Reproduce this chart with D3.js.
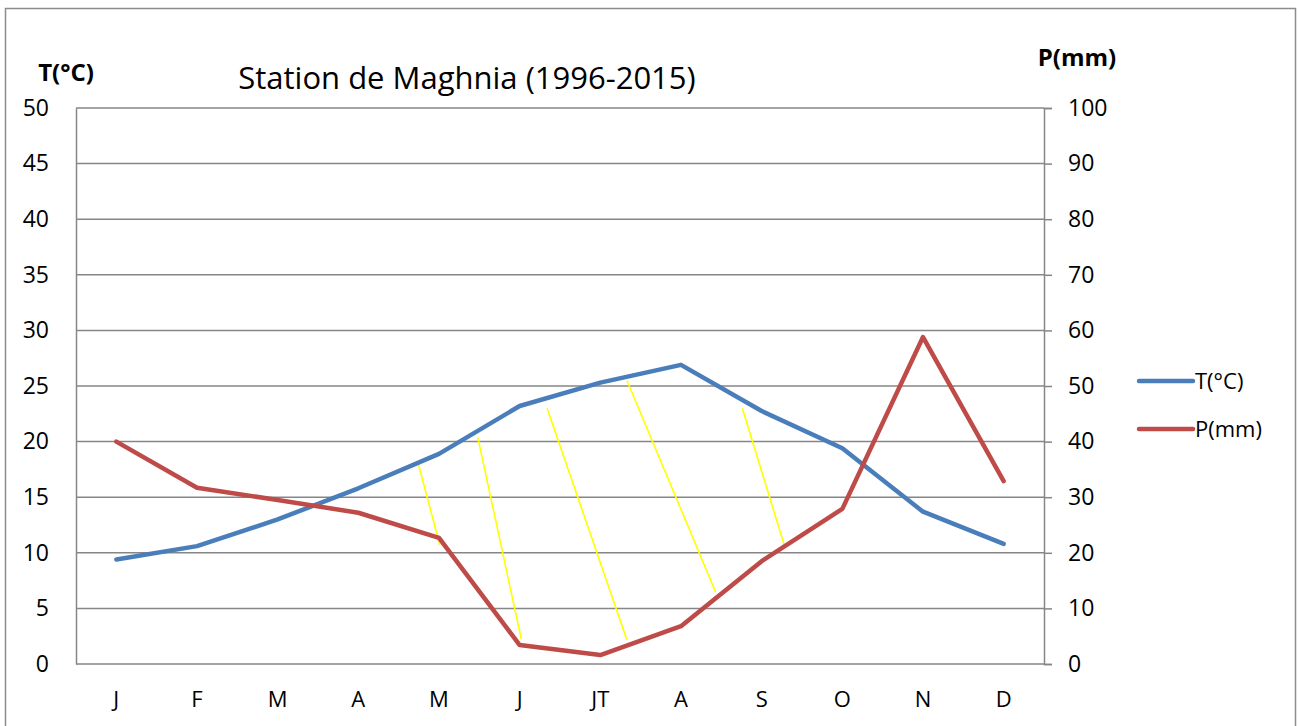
<!DOCTYPE html>
<html>
<head>
<meta charset="utf-8">
<script src="https://cdn.jsdelivr.net/npm/d3@7"></script>
<style>
  html, body { margin: 0; padding: 0; background: #fff; }
  svg { display: block; font-family: "Open Sans", "Liberation Sans", sans-serif; }
</style>
</head>
<body>
<svg id="chart" width="1301" height="726"></svg>
<script>
// Monthly climate normals, Maghnia station (1996-2015)
const months = ["J", "F", "M", "A", "M", "J", "JT", "A", "S", "O", "N", "D"];
const temperature = [9.4, 10.6, 13.0, 15.8, 18.9, 23.2, 25.3, 26.9, 22.75, 19.4, 13.7, 10.8];
const precipitation = [40.0, 31.7, 29.5, 27.2, 22.7, 3.4, 1.6, 6.8, 18.5, 27.9, 58.8, 32.9];
const tempTicks = [0, 5, 10, 15, 20, 25, 30, 35, 40, 45, 50];
const precipTicks = [0, 10, 20, 30, 40, 50, 60, 70, 80, 90, 100];

// Dry-season hatching: each stroke runs from a point on the temperature
// curve (month position, °C) to a point on the rainfall curve (month position, mm)
const hatchStart = [[3.74, 18.1], [4.48, 20.4], [5.34, 23.0], [6.33, 25.5], [7.76, 23.0]];
const hatchEnd   = [[4.01, 21.4], [5.02, 4.5], [6.33, 4.3], [7.43, 12.9], [8.28, 21.4]];

const svg = d3.select("#chart");
const margin = { left: 76, right: 1044, top: 108, bottom: 664 };

const x = d3.scaleBand().domain(d3.range(months.length))
  .range([margin.left, margin.right]).paddingInner(0).paddingOuter(0);
const xPos = i => x(0) + x.bandwidth() * (i + 0.5);
const yT = d3.scaleLinear().domain([0, 50]).range([margin.bottom, margin.top]);
const yP = d3.scaleLinear().domain([0, 100]).range([margin.bottom, margin.top]);

const gridColor = "#868686";

// Outer frame
svg.append("rect")
  .attr("x", 5.5).attr("y", 8.5).attr("width", 1290).attr("height", 740)
  .attr("fill", "none").attr("stroke", "#8c8c8c").attr("stroke-width", 1.5);

// Horizontal gridlines
svg.append("g").selectAll("line").data(tempTicks).join("line")
  .attr("x1", margin.left).attr("x2", margin.right)
  .attr("y1", d => yT(d)).attr("y2", d => yT(d))
  .attr("stroke", gridColor).attr("stroke-width", 1.5);

// Left axis (T)
const leftAxis = svg.append("g")
  .attr("transform", `translate(${margin.left},0)`)
  .call(d3.axisLeft(yT).tickValues(tempTicks).tickSize(0).tickPadding(27));
leftAxis.select(".domain").attr("stroke", gridColor).attr("stroke-width", 1.5);
leftAxis.selectAll("text").attr("font-size", 23).attr("fill", "#000")
  .attr("font-family", "'Open Sans', sans-serif");

// Right axis (P)
const rightAxis = svg.append("g")
  .attr("transform", `translate(${margin.right},0)`)
  .call(d3.axisRight(yP).tickValues(precipTicks).tickSize(8).tickPadding(16));
rightAxis.select(".domain").attr("stroke", gridColor).attr("stroke-width", 1.5);
rightAxis.selectAll(".tick line").attr("stroke", gridColor).attr("stroke-width", 1.5);
rightAxis.selectAll("text").attr("font-size", 23).attr("fill", "#000")
  .attr("font-family", "'Open Sans', sans-serif");

// Month labels
svg.append("g").selectAll("text").data(months).join("text")
  .attr("x", (d, i) => xPos(i)).attr("y", 707)
  .attr("text-anchor", "middle").attr("font-size", 22).attr("fill", "#000")
  .text(d => d);

// Hatching between the curves
svg.append("g").selectAll("line").data(hatchStart).join("line")
  .attr("x1", d => xPos(d[0])).attr("y1", d => yT(d[1]))
  .attr("x2", (d, i) => xPos(hatchEnd[i][0])).attr("y2", (d, i) => yP(hatchEnd[i][1]))
  .attr("stroke", "#ffff00").attr("stroke-width", 1.6);

// Series lines
const lineT = d3.line().x((d, i) => xPos(i)).y(d => yT(d));
const lineP = d3.line().x((d, i) => xPos(i)).y(d => yP(d));
svg.append("path").datum(temperature).attr("d", lineT)
  .attr("fill", "none").attr("stroke", "#4a7ebb").attr("stroke-width", 4.5)
  .attr("stroke-linejoin", "round").attr("stroke-linecap", "round");
svg.append("path").datum(precipitation).attr("d", lineP)
  .attr("fill", "none").attr("stroke", "#be4b48").attr("stroke-width", 4.5)
  .attr("stroke-linejoin", "round").attr("stroke-linecap", "round");

// Title and axis titles
svg.append("text").attr("x", 467).attr("y", 89).attr("text-anchor", "middle")
  .attr("font-size", 31).attr("fill", "#000").text("Station de Maghnia (1996-2015)");
svg.append("text").attr("x", 66).attr("y", 81).attr("text-anchor", "middle")
  .attr("font-size", 24).attr("font-weight", "bold").attr("fill", "#000").text("T(°C)");
svg.append("text").attr("x", 1077).attr("y", 66).attr("text-anchor", "middle")
  .attr("font-size", 24).attr("font-weight", "bold").attr("fill", "#000").text("P(mm)");

// Legend
const legend = [
  { label: "T(°C)", color: "#4a7ebb" },
  { label: "P(mm)", color: "#be4b48" }
];
const lg = svg.append("g").selectAll("g").data(legend).join("g")
  .attr("transform", (d, i) => `translate(1139,${381 + i * 48})`);
lg.append("line").attr("x1", 0).attr("x2", 54)
  .attr("stroke", d => d.color).attr("stroke-width", 4.5).attr("stroke-linecap", "round");
lg.append("text").attr("x", 56).attr("y", 8).attr("font-size", 22).attr("fill", "#000")
  .text(d => d.label);
</script>
</body>
</html>
